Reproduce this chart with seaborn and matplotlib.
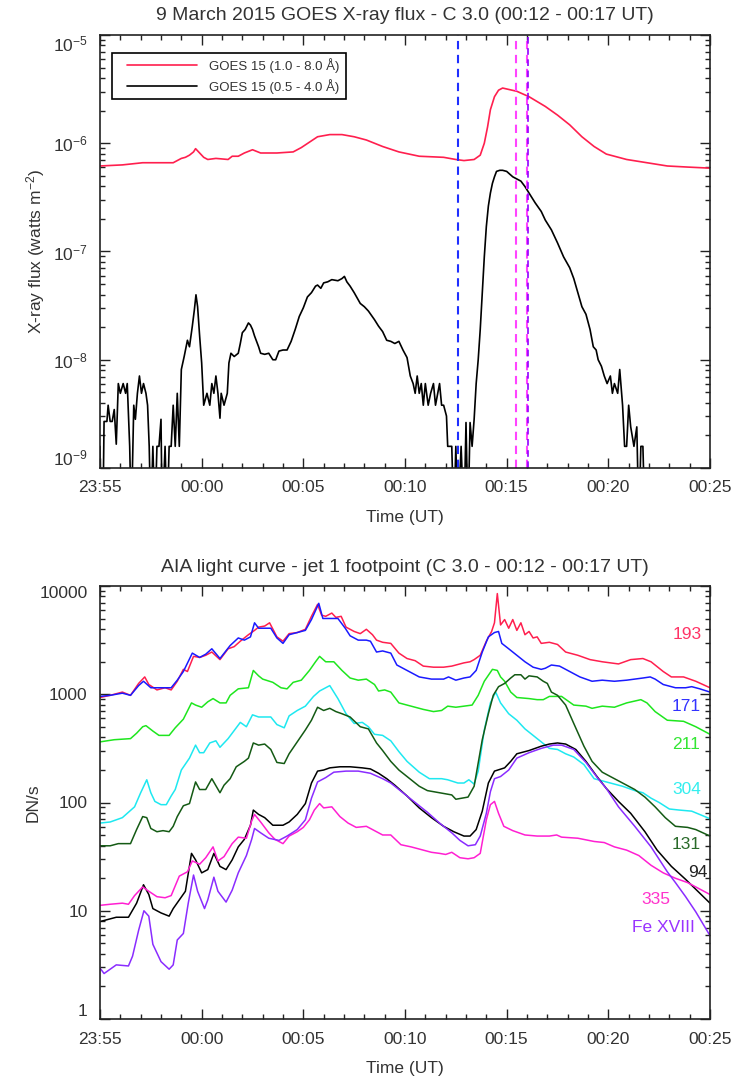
import numpy as np
import matplotlib
matplotlib.use("Agg")
import matplotlib.pyplot as plt
import seaborn as sns
from matplotlib.patches import Rectangle
from matplotlib.ticker import (MultipleLocator, LogLocator, FixedLocator, FixedFormatter,
                               NullFormatter, LogFormatterSciNotation)

# ---------------- DATA ----------------
# time axis: minutes after 23:55 UT (9 March 2015)
xtick_minutes = [0, 5, 10, 15, 20, 25, 30]
xtick_labels = ["23:55", "00:00", "00:05", "00:10", "00:15", "00:20", "00:25"]
goes_yticks = [1e-9, 1e-8, 1e-7, 1e-6, 1e-5]
aia_yticks = [1, 10, 100, 1000, 10000]
aia_yticklabels = ["1", "10", "100", "1000", "10000"]

# GOES 15 1.0-8.0 A : (minutes, log10 flux [W m^-2])
goes_long_t = [0.00, 1.10, 2.10, 2.90, 3.60, 3.80, 4.00, 4.20, 4.40, 4.60, 4.70, 4.90, 5.10, 5.30,
               5.70, 6.30, 6.50, 6.80, 7.10, 7.50, 7.90, 8.70, 9.50, 9.90, 10.30, 10.70, 11.30,
               11.90, 12.50, 13.10, 13.90, 14.70, 15.70, 16.90, 17.50, 17.90, 18.40, 18.70, 18.90,
               19.06, 19.20, 19.40, 19.60, 19.80, 20.50, 21.10, 21.90, 22.50, 23.10, 23.70, 24.30,
               24.90, 25.90, 26.90, 27.90, 28.90, 30.00]
goes_long_log = [-6.21, -6.20, -6.18, -6.18, -6.18, -6.16, -6.14, -6.13, -6.11, -6.08, -6.05, -6.09,
                 -6.13, -6.15, -6.14, -6.15, -6.12, -6.12, -6.09, -6.06, -6.09, -6.09, -6.08, -6.04,
                 -5.99, -5.94, -5.92, -5.92, -5.94, -5.97, -6.03, -6.08, -6.12, -6.13, -6.15, -6.16,
                 -6.15, -6.11, -6.00, -5.85, -5.69, -5.57, -5.51, -5.49, -5.52, -5.57, -5.66, -5.74,
                 -5.83, -5.94, -6.03, -6.10, -6.15, -6.18, -6.21, -6.22, -6.23]

# GOES 15 0.5-4.0 A : (minutes, log10 flux [W m^-2]); -9.5 = below plotted range
goes_short_t = [0.00, 0.05, 0.14, 0.20, 0.34, 0.40, 0.50, 0.60, 0.70, 0.80, 0.90, 1.00, 1.14, 1.26,
                1.34, 1.46, 1.54, 1.66, 1.74, 1.84, 1.94, 2.04, 2.14, 2.26, 2.34, 2.42, 2.50, 2.60,
                2.70, 2.80, 2.90, 3.00, 3.06, 3.20, 3.30, 3.40, 3.50, 3.60, 3.70, 3.80, 3.90, 4.00,
                4.14, 4.30, 4.40, 4.54, 4.64, 4.72, 4.80, 4.90, 5.00, 5.10, 5.26, 5.40, 5.50, 5.60,
                5.70, 5.80, 5.90, 5.96, 6.10, 6.26, 6.34, 6.44, 6.60, 6.80, 6.90, 7.00, 7.14, 7.30,
                7.40, 7.50, 7.60, 7.80, 7.90, 8.10, 8.30, 8.50, 8.64, 8.80, 9.00, 9.20, 9.40, 9.60,
                9.80, 10.00, 10.20, 10.40, 10.60, 10.70, 10.86, 11.00, 11.20, 11.40, 11.70, 11.90,
                12.02, 12.14, 12.30, 12.50, 12.80, 13.00, 13.20, 13.50, 13.70, 13.90, 14.10, 14.30,
                14.50, 14.70, 14.90, 15.10, 15.26, 15.40, 15.50, 15.60, 15.70, 15.80, 15.90, 16.00,
                16.14, 16.26, 16.40, 16.50, 16.70, 16.80, 16.90, 17.04, 17.10, 17.30, 17.40, 17.50,
                17.60, 17.76, 17.90, 18.00, 18.10, 18.20, 18.30, 18.40, 18.50, 18.60, 18.70, 18.80,
                18.90, 19.00, 19.10, 19.20, 19.30, 19.40, 19.50, 19.66, 19.80, 20.00, 20.30, 20.50,
                20.70, 20.90, 21.10, 21.40, 21.70, 21.90, 22.20, 22.50, 22.80, 23.10, 23.30, 23.50,
                23.70, 23.90, 24.10, 24.26, 24.40, 24.50, 24.66, 24.80, 24.94, 25.10, 25.20, 25.30,
                25.46, 25.56, 25.70, 25.80, 25.90, 26.00, 26.10, 26.26, 26.40, 26.50, 26.60, 26.70,
                26.80, 28.00, 30.00]
goes_short_log = [-8.80, -9.50, -9.50, -8.57, -8.57, -8.42, -8.57, -8.57, -8.46, -8.78, -8.22, -8.31,
                  -8.22, -8.31, -8.22, -8.80, -9.50, -8.42, -8.55, -8.31, -8.15, -8.31, -8.22, -8.31,
                  -8.42, -8.80, -9.50, -8.80, -9.50, -8.80, -8.80, -8.55, -9.50, -8.80, -9.50, -8.80,
                  -8.80, -8.42, -8.80, -8.31, -8.80, -8.09, -7.97, -7.82, -7.88, -7.69, -7.54, -7.40,
                  -7.51, -7.78, -8.03, -8.42, -8.31, -8.42, -8.22, -8.31, -8.15, -8.31, -8.54, -8.31,
                  -8.42, -8.31, -8.03, -7.94, -7.97, -7.94, -7.85, -7.75, -7.72, -7.66, -7.68, -7.72,
                  -7.78, -7.88, -7.94, -7.95, -7.94, -8.00, -8.00, -7.92, -7.91, -7.91, -7.83, -7.72,
                  -7.60, -7.52, -7.42, -7.38, -7.32, -7.31, -7.34, -7.29, -7.28, -7.26, -7.27, -7.25,
                  -7.23, -7.28, -7.32, -7.38, -7.48, -7.51, -7.55, -7.63, -7.69, -7.74, -7.82, -7.83,
                  -7.85, -7.83, -7.91, -7.98, -8.15, -8.22, -8.31, -8.15, -8.31, -8.22, -8.42, -8.22,
                  -8.42, -8.31, -8.22, -8.42, -8.22, -8.42, -8.42, -8.52, -8.80, -8.80, -9.50, -8.80,
                  -9.50, -8.80, -9.50, -8.58, -9.50, -8.58, -8.80, -8.55, -8.22, -8.00, -7.72, -7.38,
                  -7.05, -6.77, -6.58, -6.46, -6.37, -6.31, -6.26, -6.25, -6.25, -6.26, -6.31, -6.33,
                  -6.35, -6.40, -6.46, -6.55, -6.63, -6.71, -6.80, -6.92, -7.05, -7.15, -7.25, -7.38,
                  -7.51, -7.58, -7.72, -7.88, -7.91, -8.00, -8.06, -8.15, -8.22, -8.15, -8.31, -8.22,
                  -8.31, -8.09, -8.42, -8.80, -8.80, -8.42, -8.62, -8.80, -8.62, -9.50, -8.80, -8.80,
                  -9.50, -9.50, -9.50]

# flare-time markers (minutes after 23:55)
marker_blue_t = 17.62
marker_magenta_t = 20.46
marker_purple_t = 21.00

# AIA light curves: (minutes, log10 DN/s)
aia193_t = [0.00, 0.50, 1.10, 1.50, 1.90, 2.20, 2.40, 2.80, 3.20, 3.50, 3.80, 4.10, 4.30, 4.60, 4.90,
            5.20, 5.50, 5.90, 6.30, 6.60, 6.90, 7.30, 7.60, 7.80, 8.10, 8.34, 8.70, 9.00, 9.30, 9.70,
            10.10, 10.40, 10.70, 10.90, 11.10, 11.40, 11.60, 11.86, 12.10, 12.50, 12.80, 13.10,
            13.40, 13.60, 13.90, 14.30, 14.70, 15.10, 15.50, 15.90, 16.40, 16.90, 17.30, 17.90,
            18.20, 18.40, 18.70, 19.00, 19.26, 19.40, 19.54, 19.70, 19.90, 20.10, 20.30, 20.50,
            20.70, 20.90, 21.10, 21.30, 21.50, 21.70, 22.10, 22.50, 22.90, 23.50, 24.10, 24.70,
            25.50, 26.10, 26.70, 27.10, 27.70, 28.10, 28.70, 29.30, 30.00]
aia193_log = [2.97, 2.99, 3.02, 2.99, 3.10, 3.16, 3.09, 3.04, 3.06, 3.04, 3.12, 3.23, 3.21, 3.35, 3.34,
              3.36, 3.39, 3.32, 3.42, 3.44, 3.49, 3.55, 3.59, 3.62, 3.63, 3.66, 3.53, 3.49, 3.56, 3.57,
              3.60, 3.72, 3.83, 3.73, 3.72, 3.75, 3.71, 3.72, 3.62, 3.58, 3.56, 3.60, 3.55, 3.50, 3.48,
              3.47, 3.38, 3.33, 3.31, 3.26, 3.25, 3.25, 3.26, 3.29, 3.30, 3.32, 3.36, 3.49, 3.58, 3.66,
              3.93, 3.64, 3.69, 3.61, 3.69, 3.59, 3.66, 3.55, 3.58, 3.52, 3.53, 3.47, 3.48, 3.46, 3.39,
              3.36, 3.32, 3.30, 3.28, 3.32, 3.33, 3.30, 3.21, 3.16, 3.16, 3.12, 3.06]

aia171_t = [0.00, 0.50, 1.10, 1.50, 1.90, 2.14, 2.50, 2.90, 3.50, 3.80, 4.10, 4.54, 4.90, 5.20, 5.50,
            5.90, 6.40, 6.80, 7.10, 7.40, 7.60, 7.80, 8.40, 8.70, 9.00, 9.30, 9.70, 10.10, 10.40,
            10.76, 10.96, 11.30, 11.70, 12.06, 12.30, 12.70, 13.10, 13.30, 13.60, 13.90, 14.30,
            14.60, 15.10, 15.70, 16.30, 16.90, 17.14, 17.50, 17.90, 18.20, 18.50, 18.80, 19.10,
            19.40, 19.60, 19.76, 20.10, 20.50, 20.90, 21.30, 21.70, 21.90, 22.20, 22.60, 23.10,
            23.60, 24.20, 24.70, 25.30, 25.90, 26.30, 26.70, 27.06, 27.30, 27.70, 28.30, 28.80,
            29.10, 29.50, 30.00]
aia171_log = [2.98, 2.99, 3.01, 2.99, 3.08, 3.12, 3.06, 3.06, 3.06, 3.13, 3.21, 3.38, 3.34, 3.37, 3.42,
              3.33, 3.45, 3.52, 3.50, 3.53, 3.66, 3.61, 3.61, 3.52, 3.47, 3.55, 3.57, 3.59, 3.69, 3.84,
              3.70, 3.70, 3.70, 3.61, 3.54, 3.50, 3.50, 3.49, 3.39, 3.40, 3.38, 3.27, 3.22, 3.16, 3.14,
              3.14, 3.16, 3.13, 3.15, 3.16, 3.22, 3.39, 3.53, 3.57, 3.58, 3.47, 3.42, 3.36, 3.30, 3.25,
              3.23, 3.24, 3.27, 3.26, 3.21, 3.16, 3.12, 3.13, 3.12, 3.13, 3.14, 3.15, 3.16, 3.14, 3.09,
              3.06, 3.06, 3.07, 3.05, 3.02]

aia211_t = [0.00, 0.70, 1.50, 1.80, 2.10, 2.26, 2.60, 2.90, 3.40, 3.70, 4.10, 4.50, 4.70, 5.00, 5.30,
            5.56, 5.90, 6.20, 6.40, 6.80, 7.30, 7.54, 7.80, 8.00, 8.50, 8.90, 9.20, 9.50, 9.90,
            10.30, 10.60, 10.80, 11.10, 11.50, 11.90, 12.30, 12.70, 13.10, 13.50, 13.70, 14.00,
            14.30, 14.70, 15.10, 15.50, 15.90, 16.40, 16.80, 17.10, 17.50, 17.90, 18.30, 18.60,
            18.90, 19.30, 19.54, 19.70, 19.90, 20.20, 20.50, 21.10, 21.50, 21.80, 22.10, 22.70,
            23.30, 23.90, 24.20, 24.70, 25.30, 25.90, 26.60, 26.90, 27.30, 27.90, 28.70, 29.30, 30.00]
aia211_log = [2.56, 2.58, 2.59, 2.64, 2.70, 2.71, 2.66, 2.62, 2.62, 2.69, 2.77, 2.92, 2.90, 2.88, 2.93,
              2.96, 2.92, 2.92, 2.99, 3.05, 3.06, 3.22, 3.17, 3.14, 3.11, 3.06, 3.05, 3.11, 3.13, 3.22,
              3.30, 3.35, 3.30, 3.30, 3.22, 3.15, 3.13, 3.14, 3.09, 3.03, 3.04, 3.02, 2.92, 2.90, 2.88,
              2.86, 2.84, 2.85, 2.89, 2.88, 2.89, 2.90, 2.99, 3.12, 3.23, 3.22, 3.16, 3.12, 3.02, 2.97,
              2.96, 2.95, 2.95, 2.98, 2.98, 2.90, 2.89, 2.87, 2.89, 2.88, 2.92, 2.95, 2.92, 2.84, 2.76,
              2.75, 2.70, 2.63]

aia304_t = [0.00, 0.50, 1.10, 1.70, 2.00, 2.30, 2.50, 2.70, 3.00, 3.26, 3.50, 3.70, 4.00, 4.40, 4.70,
            4.90, 5.10, 5.40, 5.70, 5.90, 6.30, 6.90, 7.20, 7.50, 7.80, 8.40, 8.70, 9.06, 9.30, 9.70,
            10.10, 10.50, 10.80, 11.30, 11.70, 12.10, 12.50, 12.90, 13.20, 13.50, 13.90, 14.30,
            14.70, 15.10, 15.70, 16.20, 16.80, 17.10, 17.60, 17.90, 18.14, 18.40, 18.60, 18.90,
            19.20, 19.46, 19.70, 20.10, 20.50, 20.90, 21.30, 21.70, 22.10, 22.50, 22.90, 23.30,
            23.80, 24.30, 24.70, 25.10, 25.70, 26.30, 26.70, 27.10, 27.50, 28.00, 28.50, 29.10, 30.00]
aia304_log = [1.81, 1.82, 1.86, 1.96, 2.09, 2.21, 2.09, 2.01, 1.98, 1.98, 2.06, 2.12, 2.30, 2.41, 2.53,
              2.46, 2.46, 2.55, 2.57, 2.51, 2.59, 2.74, 2.70, 2.81, 2.79, 2.79, 2.72, 2.69, 2.80, 2.85,
              2.89, 2.98, 3.03, 3.08, 2.96, 2.82, 2.73, 2.74, 2.70, 2.63, 2.62, 2.57, 2.47, 2.38, 2.28,
              2.22, 2.22, 2.21, 2.18, 2.18, 2.21, 2.17, 2.29, 2.67, 2.92, 3.02, 2.92, 2.82, 2.76, 2.68,
              2.62, 2.56, 2.50, 2.49, 2.45, 2.42, 2.35, 2.22, 2.20, 2.18, 2.15, 2.11, 2.09, 2.04, 2.00,
              1.94, 1.93, 1.92, 1.85]

aia131_t = [0.00, 0.50, 0.90, 1.50, 1.80, 2.10, 2.30, 2.50, 2.80, 3.10, 3.40, 3.60, 3.80, 4.10, 4.40,
            4.70, 4.90, 5.20, 5.50, 5.90, 6.10, 6.40, 6.70, 7.10, 7.30, 7.54, 7.80, 8.10, 8.40, 8.70,
            9.06, 9.30, 9.70, 10.10, 10.40, 10.70, 11.00, 11.30, 11.60, 11.90, 12.30, 12.80, 13.20,
            13.60, 13.90, 14.30, 14.70, 15.10, 15.70, 16.10, 16.70, 17.30, 17.50, 17.80, 18.10,
            18.40, 18.80, 19.10, 19.34, 19.60, 19.90, 20.20, 20.40, 20.70, 20.90, 21.10, 21.50,
            21.80, 22.00, 22.20, 22.50, 22.90, 23.30, 23.80, 24.20, 24.70, 25.30, 25.70, 26.30,
            26.80, 27.30, 27.80, 28.30, 28.90, 29.30, 30.00]
aia131_log = [1.60, 1.60, 1.62, 1.62, 1.75, 1.87, 1.86, 1.76, 1.73, 1.74, 1.73, 1.78, 1.87, 1.97, 1.99,
              2.19, 2.12, 2.12, 2.22, 2.09, 2.16, 2.22, 2.33, 2.38, 2.41, 2.55, 2.53, 2.54, 2.49, 2.37,
              2.36, 2.45, 2.56, 2.67, 2.76, 2.88, 2.85, 2.87, 2.84, 2.82, 2.79, 2.70, 2.68, 2.55, 2.48,
              2.38, 2.30, 2.24, 2.15, 2.11, 2.09, 2.07, 2.03, 2.04, 2.05, 2.15, 2.58, 2.82, 2.99, 3.07,
              3.10, 3.15, 3.18, 3.18, 3.14, 3.17, 3.16, 3.12, 3.10, 3.02, 2.99, 2.90, 2.73, 2.52, 2.38,
              2.28, 2.22, 2.18, 2.12, 2.05, 1.96, 1.86, 1.78, 1.77, 1.75, 1.69]

aia94_t = [0.00, 0.40, 0.80, 1.40, 1.80, 2.14, 2.40, 2.60, 3.00, 3.40, 3.60, 3.90, 4.20, 4.50, 4.70,
           5.00, 5.30, 5.60, 5.90, 6.20, 6.50, 6.80, 7.10, 7.40, 7.54, 7.80, 8.10, 8.50, 9.00, 9.30,
           9.70, 10.10, 10.40, 10.70, 11.00, 11.30, 11.80, 12.30, 12.90, 13.30, 13.70, 14.10, 14.50,
           15.10, 15.70, 16.30, 16.90, 17.40, 17.90, 18.20, 18.50, 18.80, 19.10, 19.40, 19.90,
           20.20, 20.50, 21.10, 21.70, 22.10, 22.50, 22.90, 23.40, 23.90, 24.40, 24.90, 25.50,
           26.10, 26.80, 27.40, 28.10, 28.80, 29.40, 30.00]
aia94_log = [0.90, 0.92, 0.94, 0.94, 1.07, 1.24, 1.15, 1.02, 0.98, 0.95, 1.02, 1.10, 1.18, 1.53, 1.47,
             1.35, 1.38, 1.53, 1.41, 1.38, 1.47, 1.59, 1.66, 1.79, 1.93, 1.89, 1.86, 1.79, 1.79, 1.82,
             1.89, 1.99, 2.18, 2.29, 2.30, 2.32, 2.33, 2.33, 2.32, 2.31, 2.27, 2.22, 2.16, 2.06, 1.95,
             1.86, 1.78, 1.73, 1.69, 1.69, 1.75, 1.92, 2.18, 2.29, 2.32, 2.38, 2.45, 2.48, 2.52, 2.54,
             2.55, 2.54, 2.49, 2.38, 2.25, 2.13, 2.01, 1.90, 1.73, 1.56, 1.41, 1.29, 1.18, 1.07]

aia335_t = [0.00, 0.50, 1.10, 1.40, 1.70, 2.10, 2.40, 2.80, 3.20, 3.50, 3.90, 4.30, 4.54, 4.90, 5.20,
            5.56, 5.80, 6.10, 6.50, 6.80, 7.20, 7.46, 7.60, 7.90, 8.30, 8.60, 9.00, 9.30, 9.70,
            10.00, 10.30, 10.54, 10.80, 11.00, 11.40, 11.80, 12.20, 12.60, 13.10, 13.50, 13.90,
            14.30, 14.80, 15.30, 15.90, 16.30, 16.70, 17.00, 17.30, 17.70, 18.10, 18.40, 18.70,
            19.00, 19.20, 19.40, 19.60, 19.86, 20.30, 20.90, 21.50, 22.10, 22.46, 22.70, 23.50,
            24.30, 24.80, 25.30, 25.90, 26.50, 27.10, 27.70, 28.30, 28.90, 29.50, 30.00]
aia335_log = [1.05, 1.06, 1.07, 1.06, 1.14, 1.22, 1.18, 1.13, 1.12, 1.14, 1.32, 1.36, 1.46, 1.43, 1.49,
              1.59, 1.46, 1.50, 1.62, 1.68, 1.67, 1.83, 1.89, 1.82, 1.72, 1.66, 1.62, 1.69, 1.73, 1.77,
              1.84, 1.93, 1.99, 1.95, 1.96, 1.87, 1.81, 1.77, 1.78, 1.74, 1.70, 1.70, 1.61, 1.59, 1.56,
              1.54, 1.53, 1.52, 1.54, 1.49, 1.48, 1.49, 1.53, 1.84, 1.98, 2.01, 1.90, 1.78, 1.74, 1.70,
              1.69, 1.69, 1.70, 1.68, 1.67, 1.64, 1.63, 1.59, 1.56, 1.51, 1.42, 1.35, 1.30, 1.26, 1.20,
              1.15]

aia_fe18_t = [0.00, 0.20, 0.50, 0.80, 1.40, 1.60, 1.90, 2.16, 2.40, 2.60, 3.00, 3.40, 3.60, 3.80, 4.10,
              4.34, 4.60, 4.80, 5.14, 5.30, 5.60, 5.80, 6.20, 6.50, 6.80, 7.20, 7.46, 7.60, 7.90, 8.30,
              8.80, 9.20, 9.70, 10.10, 10.40, 10.70, 11.10, 11.50, 12.10, 12.70, 13.30, 13.90, 14.30,
              14.90, 15.50, 16.10, 16.70, 17.30, 17.70, 18.10, 18.46, 18.70, 19.00, 19.20, 19.40,
              19.70, 20.10, 20.50, 21.10, 21.70, 22.30, 22.70, 23.30, 23.90, 24.50, 24.90, 25.50,
              26.30, 27.10, 27.90, 28.30, 28.80, 29.30, 30.00]
aia_fe18_log = [0.47, 0.42, 0.46, 0.50, 0.49, 0.58, 0.82, 1.00, 0.95, 0.69, 0.53, 0.46, 0.50, 0.73, 0.79,
                1.07, 1.33, 1.18, 1.02, 1.10, 1.31, 1.18, 1.08, 1.19, 1.35, 1.51, 1.66, 1.76, 1.72, 1.67,
                1.65, 1.69, 1.75, 1.84, 2.04, 2.19, 2.23, 2.28, 2.29, 2.29, 2.27, 2.22, 2.18, 2.09, 2.00,
                1.91, 1.81, 1.72, 1.65, 1.60, 1.61, 1.69, 1.90, 2.10, 2.22, 2.24, 2.30, 2.41, 2.46, 2.50,
                2.53, 2.53, 2.49, 2.37, 2.22, 2.13, 1.96, 1.78, 1.59, 1.36, 1.26, 1.13, 0.99, 0.77]

channel_labels = ["193", "171", "211", "304", "131", "94", "335", "Fe XVIII"]
label_t = [28.90, 28.84, 28.80, 28.86, 28.84, 29.40, 27.34, 27.70]
label_dn = [3580, 769, 340, 133, 40.6, 22.6, 12.6, 7.07]

legend_labels = ["GOES 15 (1.0 - 8.0 \u00c5)", "GOES 15 (0.5 - 4.0 \u00c5)"]

# ---------------- STYLE ----------------
sns.set_style("ticks")
plt.rcParams["font.family"] = ["Liberation Sans", "DejaVu Sans"]
plt.rcParams["mathtext.fontset"] = "custom"
plt.rcParams["mathtext.rm"] = "Liberation Sans"
plt.rcParams["mathtext.it"] = "Liberation Sans"
TXT = "#333333"

fig = plt.figure(figsize=(7.33, 10.82), dpi=100)
ax1 = fig.add_axes([100 / 733, 1 - 468 / 1082, 610 / 733, 433 / 1082])
ax2 = fig.add_axes([100 / 733, 1 - 1019 / 1082, 610 / 733, 433 / 1082])


def style_axes(ax):
    ax.set_xlim(0, 30)
    ax.set_xticks(xtick_minutes)
    ax.set_xticklabels(xtick_labels)
    ax.xaxis.set_minor_locator(MultipleLocator(1))
    ax.xaxis.set_minor_formatter(NullFormatter())
    ax.tick_params(which="both", direction="in", top=True, right=True, colors="#222222",
                   labelcolor=TXT, labelsize=12.5, width=1.0)
    ax.tick_params(which="major", length=7, pad=9)
    ax.tick_params(which="minor", length=3.5, labelleft=False, labelbottom=False)
    for s in ax.spines.values():
        s.set_color("#222222")
        s.set_linewidth(1.2)
        s.set_visible(True)


def nudge_end_labels(ax):
    # outermost y tick labels sit just inside the frame, as in the original
    ticks = ax.yaxis.get_major_ticks()
    ticks[0].label1.set_verticalalignment("bottom")
    ticks[-1].label1.set_verticalalignment("top")


# ---- top panel: GOES ----
red = "#ff1f4e"
sns.lineplot(x=goes_long_t, y=10 ** np.array(goes_long_log), ax=ax1, color=red, lw=1.2,
             estimator=None, sort=False, label=legend_labels[0])
sns.lineplot(x=goes_short_t, y=10 ** np.array(goes_short_log), ax=ax1, color="black", lw=1.2,
             estimator=None, sort=False, label=legend_labels[1])
ax1.set_yscale("log")
ax1.set_ylim(1e-9, 1e-5)
ax1.yaxis.set_major_locator(FixedLocator(goes_yticks))
ax1.yaxis.set_major_formatter(LogFormatterSciNotation())
ax1.yaxis.set_minor_locator(LogLocator(base=10, subs=np.arange(2, 10)))
ax1.yaxis.set_minor_formatter(NullFormatter())
ax1.axvline(marker_blue_t, color="#1f2fff", lw=1.5, dashes=(4, 2.7))
ax1.axvline(marker_magenta_t, color="#ff44ff", lw=1.5, dashes=(4, 2.7))
ax1.axvline(marker_purple_t, color="#ff44ff", lw=1.5, dashes=(4, 2.7))
ax1.axvline(marker_purple_t + 0.03, color="#9000ff", lw=1.2, dashes=(4, 2.7))
style_axes(ax1)
nudge_end_labels(ax1)
ax1.set_xlabel("Time (UT)", fontsize=12.5, color=TXT)
ax1.set_ylabel("X-ray flux (watts m$^{-2}$)", fontsize=12.5, color=TXT)
ax1.xaxis.set_label_coords(0.5, -0.097)
ax1.yaxis.set_label_coords(-0.087, 0.5)
fig.text(0.5 * (100 + 710) / 733, 1 - 16 / 1082,
         "9 March 2015 GOES X-ray flux - C 3.0 (00:12 - 00:17 UT)",
         ha="center", va="center", fontsize=14, color=TXT)
# legend: frame drawn as a box in axes coordinates, entries placed inside it
ax1.add_patch(Rectangle((12 / 610, 1 - 64 / 433), 234 / 610, 46 / 433, transform=ax1.transAxes,
                        facecolor="white", edgecolor="black", lw=1.2, zorder=5))
leg = ax1.legend(loc="center left", bbox_to_anchor=(27 / 610, 1 - 41 / 433), borderaxespad=0,
                 fontsize=9.5, frameon=False, handlelength=5.3, handletextpad=0.95,
                 borderpad=0, labelspacing=0.45)
leg.set_zorder(6)
for t in leg.get_texts():
    t.set_color(TXT)

# ---- bottom panel: AIA ----
aia_series = [
    (aia193_t, aia193_log, "#ff1f4e"),
    (aia171_t, aia171_log, "#1a1aff"),
    (aia211_t, aia211_log, "#1ee61e"),
    (aia304_t, aia304_log, "#1ee8f0"),
    (aia131_t, aia131_log, "#145a14"),
    (aia94_t, aia94_log, "#000000"),
    (aia335_t, aia335_log, "#ff1fd2"),
    (aia_fe18_t, aia_fe18_log, "#8a2cff"),
]
label_colors = ["#ff3366", "#3333ff", "#33e633", "#33eeee", "#2a6a2a", "#222222", "#ff33cc", "#9933ff"]
for t_arr, l_arr, c in aia_series:
    sns.lineplot(x=t_arr, y=10 ** np.array(l_arr), ax=ax2, color=c, lw=1.1,
                 estimator=None, sort=False)
ax2.set_yscale("log")
ax2.set_ylim(1, 10000)
ax2.yaxis.set_major_locator(FixedLocator(aia_yticks))
ax2.yaxis.set_major_formatter(FixedFormatter(aia_yticklabels))
ax2.yaxis.set_minor_locator(LogLocator(base=10, subs=np.arange(2, 10)))
ax2.yaxis.set_minor_formatter(NullFormatter())
for name, lt, lv, c in zip(channel_labels, label_t, label_dn, label_colors):
    ax2.text(lt, lv, name, color=c, fontsize=12.5, ha="center", va="center")
style_axes(ax2)
nudge_end_labels(ax2)
ax2.set_xlabel("Time (UT)", fontsize=12.5, color=TXT)
ax2.set_ylabel("DN/s", fontsize=12.5, color=TXT)
ax2.xaxis.set_label_coords(0.5, -0.097)
ax2.yaxis.set_label_coords(-0.098, 0.5)
fig.text(0.5 * (100 + 710) / 733, 1 - 567 / 1082,
         "AIA light curve - jet 1 footpoint (C 3.0 - 00:12 - 00:17 UT)",
         ha="center", va="center", fontsize=14, color=TXT)

fig.savefig("out.png", dpi=100)
